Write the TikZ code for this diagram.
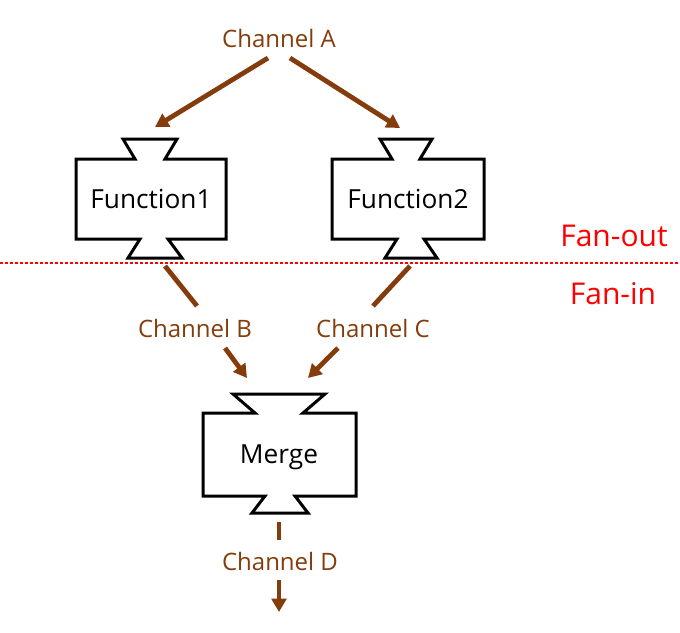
\documentclass[tikz,border=0pt]{standalone}
\usepackage{fontspec}
\setmainfont{Open Sans}
\usetikzlibrary{arrows.meta}
\definecolor{chbrown}{RGB}{132,60,12}
\tikzset{
  boxline/.style={draw=black,line width=2.25pt,fill=white,line join=miter},
  chan/.style={text=chbrown,font=\fontsize{18}{20}\selectfont,inner sep=0pt},
  boxtext/.style={text=black,font=\fontsize{19.7}{22}\selectfont,inner sep=0pt},
  fan/.style={text=red,font=\fontsize{22.5}{25}\selectfont,inner sep=0pt},
  arr/.style={draw=chbrown,line width=3.6pt,-{Triangle[length=10pt,width=11pt]}},
  seg/.style={draw=chbrown,line width=3.6pt},
  sep/.style={draw=red,line width=0.9pt,dash pattern=on 2.25pt off 1.5pt}
}
\begin{document}
\begin{tikzpicture}[x=0.75pt,y=-0.75pt]
\path[use as bounding box] (0,0) rectangle (680,632);
% separator
\coordinate (sepL) at (0,263);
\coordinate (sepR) at (680,263);
\draw[sep] (sepL) -- (sepR);
\node[fan] (fanout) at (614,236) {Fan-out};
\node[fan] (fanin) at (613,294) {Fan-in};
% boxes
\draw[boxline] (76,159) -- (135,159) -- (123,139) -- (177,139) -- (165,159) -- (226,159)
  -- (226,239) -- (168,239) -- (182,258) -- (128,258) -- (140,239) -- (76,239) -- cycle;
\node[boxtext] (f1) at (151,199) {Function1};
\draw[boxline] (332,159) -- (392,159) -- (380,139) -- (432,139) -- (420,159) -- (484,159)
  -- (484,239) -- (424,239) -- (437,258) -- (385,258) -- (397,239) -- (332,239) -- cycle;
\node[boxtext] (f2) at (408,199) {Function2};
\draw[boxline] (203,413) -- (255,413) -- (233,394) -- (325,394) -- (303,413) -- (356,413)
  -- (356,496) -- (295,496) -- (308,513) -- (252,513) -- (265,496) -- (203,496) -- cycle;
\node[boxtext] (m) at (279,457) {Merge};
% labels
\node[chan] (a) at (279,38) {Channel A};
\node[chan] (b) at (195,328) {Channel B};
\node[chan] (c) at (373,328) {Channel C};
\node[chan] (d) at (280,561) {Channel D};
% connector points
\coordinate (a1) at (268,58);
\coordinate (a2) at (290,58);
\coordinate (f1in) at (155,127);
\coordinate (f2in) at (400,128);
\coordinate (f1out) at (165,266);
\coordinate (b1) at (197,306);
\coordinate (b2) at (225,348);
\coordinate (mb) at (247,378);
\coordinate (f2out) at (410,266);
\coordinate (c1) at (373,306);
\coordinate (c2) at (338,348);
\coordinate (mc) at (308,378);
\coordinate (mout) at (279,522);
\coordinate (d1) at (279,540);
\coordinate (d2) at (279,580);
\coordinate (dend) at (279,612);
% connectors
\draw[arr] (a1) -- (f1in);
\draw[arr] (a2) -- (f2in);
\draw[seg] (f1out) -- (b1);
\draw[arr] (b2) -- (mb);
\draw[seg] (f2out) -- (c1);
\draw[arr] (c2) -- (mc);
\draw[seg] (mout) -- (d1);
\draw[arr] (d2) -- (dend);
\end{tikzpicture}
\end{document}
